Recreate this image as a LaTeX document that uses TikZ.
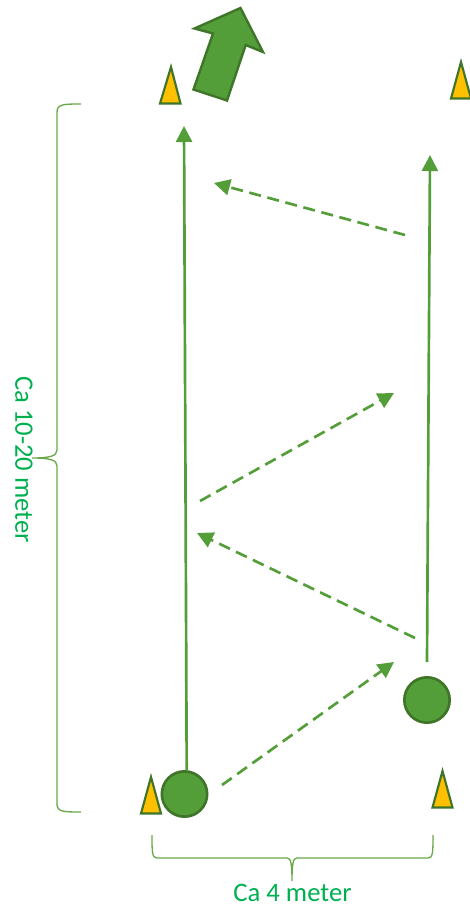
\documentclass[tikz,border=0pt]{standalone}
\usepackage{fontspec}
\setmainfont{Carlito}
\usetikzlibrary{arrows.meta}
\definecolor{gfill}{HTML}{549E39}
\definecolor{gedge}{HTML}{3E7529}
\definecolor{gtext}{HTML}{00B050}
\definecolor{gbrace}{HTML}{6AA84A}
\definecolor{amber}{HTML}{FFC000}
\tikzset{
  x=0.75pt,y=-0.75pt,
  cone/.style={draw=gedge,fill=amber,line width=1.6pt,line join=miter},
  ball/.style={circle,draw=gedge,fill=gfill,line width=2pt,minimum size=34pt,inner sep=0pt},
  runline/.style={draw=gfill,line width=2pt,-{Triangle[length=12pt,width=12pt]}},
  passline/.style={draw=gfill,line width=2pt,dash pattern=on 9pt off 5pt,-{Triangle[length=12pt,width=12pt]}},
  bracket/.style={draw=gbrace,line width=1pt},
  lab/.style={text=gtext,font=\fontsize{20}{22}\selectfont,inner sep=0pt}
}
\begin{document}
\begin{tikzpicture}
\useasboundingbox (0,0) rectangle (469,907);
% cones
\draw[cone] (171,67) -- (180.5,103.5) -- (160,103.5) -- cycle;
\draw[cone] (461,62) -- (471,98.5) -- (451,98.5) -- cycle;
\draw[cone] (151,777) -- (161,813.5) -- (141,813.5) -- cycle;
\draw[cone] (442.5,771) -- (452.5,807.5) -- (432.5,807.5) -- cycle;
% big arrow
\draw[draw=gedge,fill=gfill,line width=1.8pt,line join=miter]
  (240.5,8) -- (263,52) -- (245.7,45) -- (227,100.5) -- (193.5,89.5) -- (213,33.5) -- (194.5,28.5) -- cycle;
% players
\node[ball] (p1) at (184.5,794) {};
\node[ball] (p2) at (427,700) {};
\coordinate (p2top) at (427,662);
\coordinate (e1) at (184,126);
\coordinate (e2) at (430,155);
\draw[runline] (p1.north) ++(2.2,0) coordinate (p1top) -- (e1);
\draw[runline] (p2top) -- (e2);
% passes
\coordinate (a1) at (222,785); \coordinate (a2) at (394,662);
\coordinate (b1) at (415,638); \coordinate (b2) at (197,533);
\coordinate (c1) at (200,501); \coordinate (c2) at (394,393);
\coordinate (d1) at (405,235); \coordinate (d2) at (214,183);
\draw[passline] (a1) -- (a2);
\draw[passline] (b1) -- (b2);
\draw[passline] (c1) -- (c2);
\draw[passline] (d1) -- (d2);
% braces
\draw[bracket] (81,104) .. controls (64,104) and (57,104) .. (57,112) -- (57,450)
  .. controls (57,456) and (50,458) .. (32,458)
  .. controls (50,458) and (57,460) .. (57,466) -- (57,804)
  .. controls (57,812) and (64,812) .. (81,812);
\draw[bracket] (152,835) .. controls (152,852) and (152,858) .. (157,858) -- (287,858)
  .. controls (291,858) and (292,864) .. (292,881)
  .. controls (292,864) and (293,858) .. (297,858) -- (428,858)
  .. controls (433,858) and (433,852) .. (433,835);
% labels
\node[lab,rotate=-90] (h) at (24,459.5) {Ca 10-20 meter};
\node[lab] (w) at (292.5,893) {Ca 4 meter};
\end{tikzpicture}
\end{document}
